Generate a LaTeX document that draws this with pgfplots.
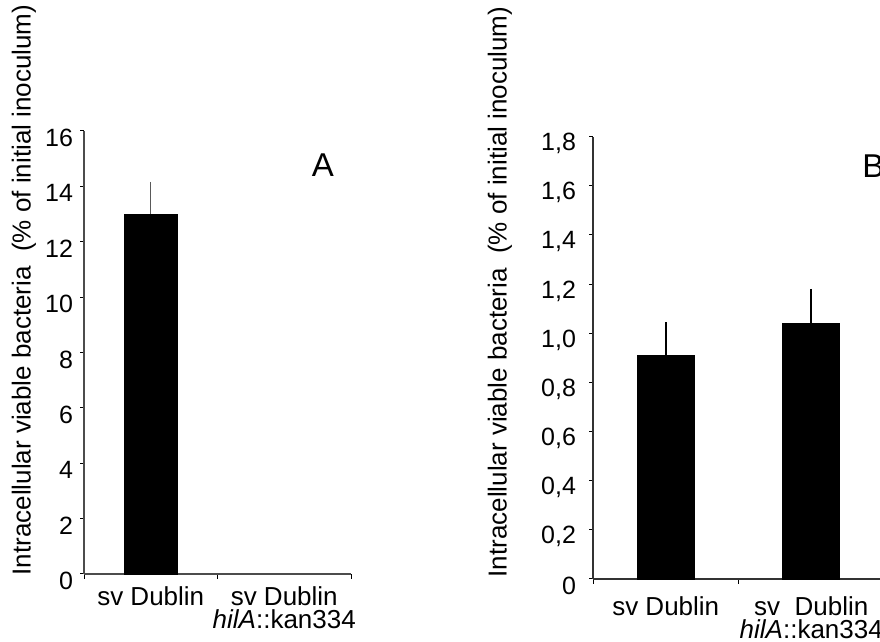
\documentclass[border=0pt]{standalone}
\usepackage{fontspec}
\setmainfont{Liberation Sans}
\usepackage{pgfplots}
\pgfplotsset{compat=1.18}
\begin{document}
\begin{tikzpicture}
\pgfplotsset{
  panel/.style={
    scale only axis,
    anchor=south west,
    axis x line=bottom, axis y line=left,
    axis line style={-, line width=0.6pt},
    ymin=0, xmin=0.5, xmax=2.5,
    enlargelimits=false,
    tick align=outside,
    major tick length=2pt, minor tick length=2.5pt,
    xtick={1,2},
    minor xtick={0.5,1.5,2.5},
    major x tick style={draw=none},
    every tick/.style={line width=0.5pt, black},
    /pgf/number format/assume math mode=true,
    yticklabel style={font=\fontsize{12.5}{14}\selectfont, yshift=-3.5pt},
    xticklabel style={font=\fontsize{13}{11.5}\selectfont, align=center, anchor=north, yshift=-1pt},
    ybar,
    clip=false,
  }
}
\begin{axis}[panel, at={(42pt,34pt)}, width=133.5pt, height=221.5pt,
  ymax=16, ytick={0,2,4,6,8,10,12,14,16}, bar width=26.5pt,
  axis line style={black!70},
  xticklabels={sv Dublin, sv Dublin\\\textit{hilA}::kan334}]
\addplot[fill=black, draw=black,
  error bars/.cd, y dir=plus, y explicit, error mark=none,
  error bar style={line width=0.6pt, black!65}]
  coordinates {(1,13.0) +- (0,1.16)};
\end{axis}
\begin{axis}[panel, at={(296.5pt,31.5pt)}, width=145.5pt, height=221.2pt,
  ymax=1.8, ytick={0,0.2,0.4,0.6,0.8,1.0,1.2,1.4,1.6,1.8},
  yticklabels={0,{0,2},{0,4},{0,6},{0,8},{1,0},{1,2},{1,4},{1,6},{1,8}},
  yticklabel style={xshift=-3pt},
  xticklabel style={yshift=-2.5pt},
  bar width=28.5pt,
  axis line style={black!80},
  xticklabels={sv Dublin, sv\ \ Dublin\\\textit{hilA}::kan334}]
\addplot[fill=black, draw=black,
  error bars/.cd, y dir=plus, y explicit, error mark=none,
  error bar style={line width=0.9pt, black}]
  coordinates {(1,0.91) +- (0,0.135) (2,1.04) +- (0,0.14)};
\end{axis}
\node[rotate=90, font=\fontsize{13}{15}\selectfont] at (12pt,176pt) {Intracellular viable bacteria\ \ (\% of initial inoculum)};
\node[rotate=90, font=\fontsize{13}{15}\selectfont] at (250pt,175pt) {Intracellular viable bacteria\ \ (\% of initial inoculum)};
\node[font=\fontsize{16.5}{18}\selectfont, anchor=base, inner sep=0pt] at (161.5pt,232.5pt) {A};
\node[font=\fontsize{16.5}{18}\selectfont, anchor=base west, inner sep=0pt] at (431pt,232pt) {B};
\pgfresetboundingbox
\path[use as bounding box] (0,0) rectangle (440pt,321pt);
\end{tikzpicture}
\end{document}
